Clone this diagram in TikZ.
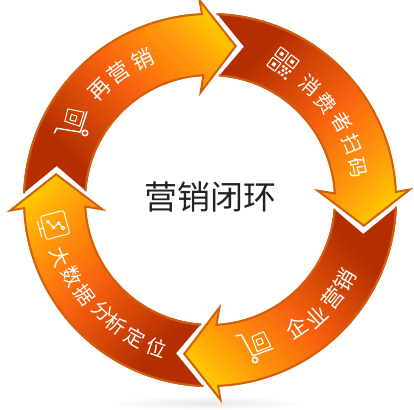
\documentclass[tikz,border=0pt]{standalone}
\usepackage{fontspec}
\setmainfont{Noto Sans CJK SC}
\definecolor{tailred}{HTML}{B42E00}
\definecolor{midor}{HTML}{F8620F}
\definecolor{lightor}{HTML}{FF9A0A}
\definecolor{headyel}{HTML}{FFCC00}
\definecolor{rimor}{HTML}{D0600C}
\definecolor{titleink}{HTML}{222222}
\pgfdeclareverticalshading{ringgrad}{100bp}{
  color(0bp)=(tailred); color(29bp)=(tailred); color(52bp)=(midor); color(68bp)=(lightor); color(79bp)=(headyel); color(100bp)=(headyel)}
\tikzset{
  rimline/.style={draw=rimor,line width=2pt,line join=miter},
  glyphtxt/.style={text=white,inner sep=0pt,font=\fontsize{21.5}{22}\selectfont},
  smallglyph/.style={text=white,inner sep=0pt,font=\fontsize{20}{20}\selectfont},
  titletxt/.style={text=titleink,inner sep=0pt,font=\fontsize{33}{33}\selectfont},
  iconline/.style={draw=white,line width=1pt,fill=none,line join=round,line cap=round},
}
\newcommand{\ringarrow}[2]{%
 \begin{scope}[rotate=#1]
  \shade[shading=ringgrad,shading angle=#2]
    (178:187pt) arc[start angle=178,end angle=92.5,radius=187pt]
    -- (93:201pt) -- (80.5:156pt) -- (95:107pt) -- (93:124pt)
    arc[start angle=93,end angle=176,radius=124pt] -- (167.5:157pt) -- cycle;
  \draw[rimline]
    (178:186pt) arc[start angle=178,end angle=92.5,radius=186pt]
    -- (93:200pt) -- (80.5:156pt) -- (95:108pt) -- (93:125pt)
    arc[start angle=93,end angle=176,radius=125pt];
 \end{scope}}
\newcommand{\upglyph}[5][glyphtxt]{\node[#1,rotate=#3-90] (#2) at (#3:#4pt) {#5};}
\newcommand{\loglyph}[5][glyphtxt]{\node[#1,rotate=#3+90] (#2) at (#3:#4pt) {#5};}
\newcommand{\carticon}[3]{%
 \begin{scope}[shift={(#1)},rotate=#2,scale=#3]
  \draw[iconline,line width=1.4pt] (-18,23) -- (-13,24) -- (-2,4) -- (17,11);
  \draw[iconline] (-3,22) -- (8,27) -- (15,13) -- (2,8) -- cycle;
  \draw[iconline] (1,19) -- (6,21) -- (8,16) -- (3,14) -- cycle;
  \draw[iconline,line width=1.6pt] (0,0) circle (2.6pt);
 \end{scope}}
\begin{document}
\begin{tikzpicture}[x=1pt,y=1pt]
\useasboundingbox (0,0) rectangle (414,409);
\shade[inner color=black!9,outer color=white,draw=none] (207,6) ellipse (100 and 7);
\begin{scope}[shift={(210,209)}]
 \ringarrow{0}{-45}
 \ringarrow{-90}{-135}
 \ringarrow{-180}{135}
 \ringarrow{-270}{45}
 \upglyph{a}{135}{156}{再}
 \upglyph{b}{125.5}{157}{营}
 \upglyph{c}{115.5}{156}{销}
 \upglyph[smallglyph]{d}{49}{152}{消}
 \upglyph[smallglyph]{e}{40}{151}{费}
 \upglyph[smallglyph]{f}{30.5}{153}{者}
 \upglyph[smallglyph]{g}{21.5}{153}{扫}
 \upglyph[smallglyph]{h}{12.5}{151}{码}
 \loglyph{i}{-56}{154}{企}
 \loglyph{j}{-47.5}{158}{业}
 \loglyph{k}{-38.5}{157}{营}
 \loglyph{l}{-30.5}{157}{销}
 \loglyph[smallglyph]{m}{200.8}{160}{大}
 \loglyph[smallglyph]{n}{209}{158}{数}
 \loglyph[smallglyph]{o}{217}{157}{据}
 \loglyph[smallglyph]{p}{226}{155}{分}
 \loglyph[smallglyph]{q}{233}{156}{析}
 \loglyph[smallglyph]{r}{241.5}{157}{定}
 \loglyph[smallglyph]{s}{250}{157}{位}
\end{scope}
\node[titletxt] (title) at (210,212) {营销闭环};
\carticon{85,276}{52}{1.05}
\carticon{255,49}{0}{1.05}
\begin{scope}[shift={(283,346)},rotate=-37]
 \foreach \px/\py in {-6.5/6.5,6.5/6.5,-6.5/-6.5}{
  \draw[iconline,line width=1.1pt] (\px-5,\py-5) rectangle (\px+5,\py+5);
  \fill[white] (\px-1.8,\py-1.8) rectangle (\px+1.8,\py+1.8);}
 \foreach \px/\py in {2.5/-2.5,6/-2.5,10.5/-2.5,4.5/-6,8.5/-6,2.5/-10,6.5/-10,11/-11}{
  \fill[white] (\px-1.2,\py-1.2) rectangle (\px+1.2,\py+1.2);}
\end{scope}
\begin{scope}[shift={(55,184)},rotate=15]
 \draw[iconline,rounded corners=2pt] (-12,-12) rectangle (12,12);
 \draw[iconline] (-12,0) -- (-16,0);
 \draw[iconline] (-16,-8) -- (-16,8);
 \draw[iconline] (-6,5) -- (-2,-2) -- (4,1) -- (7,-5);
 \draw[iconline] (-6,5) circle (1.4pt) (-2,-2) circle (1.4pt) (4,1) circle (1.4pt) (7,-5) circle (1.8pt);
\end{scope}
\end{tikzpicture}
\end{document}
